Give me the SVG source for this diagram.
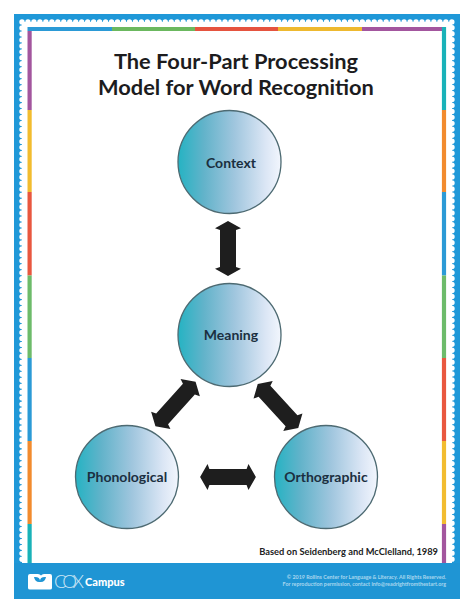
<svg xmlns="http://www.w3.org/2000/svg" width="474" height="613" viewBox="0 0 474 613">
<style>
text{font-family:Lato,"Liberation Sans",sans-serif}
.title{font-size:21.8px;font-weight:700;fill:#1c1c1e;text-anchor:middle}
.lab{font-size:14px;font-weight:700;fill:#1b2f40;text-anchor:middle}
.node{fill:url(#g);stroke:#4d6a72;stroke-width:1.3}
.arrow{fill:#1e1e1e}
.scal{stroke:#fff;stroke-width:5.4;stroke-linecap:round;stroke-dasharray:0 5.97;fill:none}
.fine{font-size:5.35px;fill:#a9d7ef;text-anchor:end;font-weight:700}
</style>
<defs>
<linearGradient id="g" x1="0" y1="0" x2="1" y2="0">
<stop offset="0" stop-color="#25b3c3"/>
<stop offset="0.25" stop-color="#62b3ca"/>
<stop offset="0.55" stop-color="#a0c6de"/>
<stop offset="0.85" stop-color="#dbe6f5"/>
<stop offset="1" stop-color="#f2f6fd"/>
</linearGradient>
<polygon id="arr" points="-30,0 -22,-13 -20,-8 20,-8 22,-13 30,0 22,13 20,8 -20,8 -22,13"/>
</defs>
<rect width="474" height="613" fill="#fff"/>
<g id="frame">
<rect x="14" y="14" width="446" height="585" fill="#1f98d8"/>
<rect x="22" y="22" width="430" height="541" fill="#fff"/>
<path class="scal" d="M22 22H452V563M22 22V563"/>
<g fill="none" stroke-width="4.2">
<path d="M27.5 29H112" stroke="#2b9ad6"/><path d="M112 29H195" stroke="#6bb85f"/><path d="M195 29H278" stroke="#e5533f"/><path d="M278 29H362" stroke="#eeb92f"/><path d="M362 29H442" stroke="#a3569e"/>
<path d="M29.6 31V110" stroke="#a3569e"/><path d="M29.6 110V192" stroke="#f2bc2f"/><path d="M29.6 192V275.5" stroke="#e9573f"/><path d="M29.6 275.5V358" stroke="#6dbb6a"/><path d="M29.6 358V441" stroke="#2b9ad6"/><path d="M29.6 441V524" stroke="#f28b2e"/><path d="M29.6 524V563" stroke="#19b2b8"/>
<path d="M444 27V110" stroke="#19b2b8"/><path d="M444 110V192" stroke="#f28b2e"/><path d="M444 192V275.5" stroke="#2b9ad6"/><path d="M444 275.5V358" stroke="#6dbb6a"/><path d="M444 358V441" stroke="#e9573f"/><path d="M444 441V524" stroke="#f2bc2f"/><path d="M444 524V563" stroke="#a3569e"/>
</g>
</g>
<text class="title" x="236" y="69">The Four-Part Processing</text>
<text class="title" x="236" y="95">Model for Word Recognition</text>
<g id="connectors">
<use href="#arr" class="arrow" transform="translate(228 248.5) rotate(90) scale(.92 1)"/>
<use href="#arr" class="arrow" transform="translate(175.5 404) rotate(-48)"/>
<use href="#arr" class="arrow" transform="translate(278 406) rotate(47.5)"/>
<use href="#arr" class="arrow" transform="translate(228 477) scale(.93 1)"/>
</g>
<g id="context"><circle class="node" cx="229.5" cy="162" r="51.5"/><text class="lab" x="231" y="168">Context</text></g>
<g id="meaning"><circle class="node" cx="229.5" cy="335" r="51.5"/><text class="lab" x="231" y="340">Meaning</text></g>
<g id="phonological"><circle class="node" cx="127" cy="477" r="51.5"/><text class="lab" x="127" y="482">Phonological</text></g>
<g id="orthographic"><circle class="node" cx="326" cy="477" r="51.5"/><text class="lab" x="326" y="482">Orthographic</text></g>
<text x="438" y="555" text-anchor="end" font-size="9.3" font-weight="700" fill="#222">Based on Seidenberg and McClelland, 1989</text>
<g id="footer">
<rect x="14" y="563" width="446" height="36" fill="#1f95d4"/>
<path d="M28 576q0-2 2-2h8q2 0 3 1.500q1-1.500 3-1.500h6q2 0 2 2v12q0 1.500-2 1.500h-20q-2 0-2-1.500z" fill="#fff"/>
<path d="M40 587v-5q-5 .5-6-5q6-.5 6 4q0-4.500 6-4q-1 5.500-6 5z" fill="#1f95d4"/>
<text x="54" y="588" font-size="18.500" font-weight="300" fill="#cfe8f6" textLength="30">COX</text>
<text x="85" y="586" font-size="11" font-weight="900" fill="#fff">Campus</text>
<text class="fine" x="446" y="578.500">© 2019 Rollins Center for Language &amp; Literacy. All Rights Reserved.</text>
<text class="fine" x="446" y="586">For reproduction permission, contact info@readrightfromthestart.org</text>
</g>
</svg>
